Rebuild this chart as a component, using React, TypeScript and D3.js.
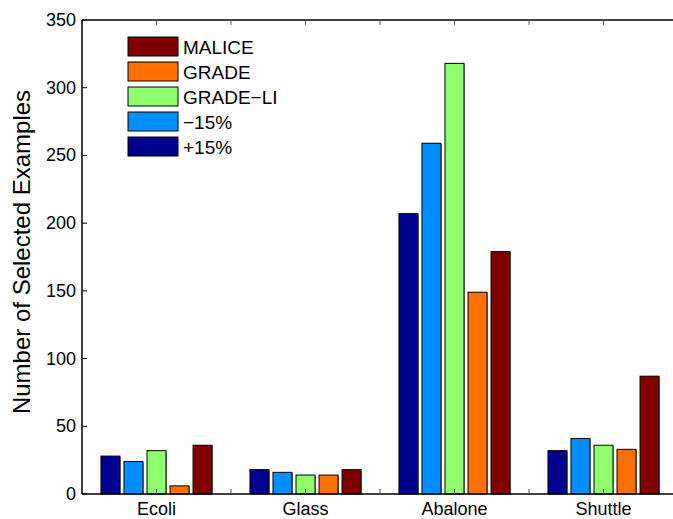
import React, { useRef, useEffect } from "react";
import * as d3 from "d3";

const categories = ["Ecoli", "Glass", "Abalone", "Shuttle"];
const seriesNames = ["+15%", "\u221215%", "GRADE\u2212LI", "GRADE", "MALICE"];
const seriesColors = ["#00008f", "#008fff", "#8fff70", "#ff7000", "#800000"];
const plus15 = [28, 18, 207, 32];
const minus15 = [24, 16, 259, 41];
const gradeLi = [32, 14, 318, 36];
const grade = [6, 14, 149, 33];
const malice = [36, 18, 179, 87];
const yTicks = [0, 50, 100, 150, 200, 250, 300, 350];

const series = [plus15, minus15, gradeLi, grade, malice];

const W = 673;
const H = 519;
const FONT = "'Liberation Sans', Arial, sans-serif";

const App = () => {
  const svgRef = useRef<SVGSVGElement>(null);

  useEffect(() => {
    document.body.style.margin = "0";
    const svg = d3.select(svgRef.current);
    svg.selectAll("*").remove();

    const left = 82, top = 20, bottom = 494;
    // axis spans 0..8, groups sit at odd positions, box runs past the right edge
    const x = d3.scaleLinear().domain([0, 8]).range([left, 678]);
    const y = d3.scaleLinear().domain([0, 350]).range([bottom, top]);
    const pitch = 0.309;
    const barW = 19;

    const g = svg.append("g");

    // bars
    series.forEach((vals, si) => {
      vals.forEach((v, ci) => {
        const cx = x(ci * 2 + 1 + (si - 2) * pitch);
        // light shadow on the right side
        g.append("rect")
          .attr("x", cx - barW / 2 + 1)
          .attr("y", y(v) + 1)
          .attr("width", barW)
          .attr("height", bottom - y(v) - 1)
          .attr("fill", "#999");
        g.append("rect")
          .attr("x", cx - barW / 2)
          .attr("y", y(v))
          .attr("width", barW)
          .attr("height", bottom - y(v))
          .attr("fill", seriesColors[si])
          .attr("stroke", "#000")
          .attr("stroke-width", 1);
      });
    });

    // axes box
    g.append("line").attr("x1", left).attr("x2", W).attr("y1", top).attr("y2", top).attr("stroke", "#000").attr("stroke-width", 1.5);
    g.append("line").attr("x1", left).attr("x2", W).attr("y1", bottom).attr("y2", bottom).attr("stroke", "#000").attr("stroke-width", 1.5);
    g.append("line").attr("x1", left).attr("x2", left).attr("y1", top).attr("y2", bottom).attr("stroke", "#000").attr("stroke-width", 1.5);

    // x ticks (inward, top and bottom)
    d3.range(1, 8).forEach((t) => {
      g.append("line").attr("x1", x(t)).attr("x2", x(t)).attr("y1", bottom).attr("y2", bottom - 5).attr("stroke", "#555");
      g.append("line").attr("x1", x(t)).attr("x2", x(t)).attr("y1", top).attr("y2", top + 5).attr("stroke", "#555");
    });
    categories.forEach((c, i) => {
      g.append("text")
        .attr("x", x(i * 2 + 1))
        .attr("y", bottom + 21)
        .attr("text-anchor", "middle")
        .attr("font-family", FONT)
        .attr("font-size", 18)
        .text(c);
    });

    // y ticks
    yTicks.forEach((t) => {
      g.append("line").attr("x1", left).attr("x2", left + 5).attr("y1", y(t)).attr("y2", y(t)).attr("stroke", "#000");
      g.append("text")
        .attr("x", left - 6)
        .attr("y", y(t) + 6)
        .attr("text-anchor", "end")
        .attr("font-family", FONT)
        .attr("font-size", 18)
        .text(t);
    });

    g.append("text")
      .attr("transform", `translate(30, ${(top + bottom) / 2 - 5}) rotate(-90)`)
      .attr("text-anchor", "middle")
      .attr("font-family", FONT)
      .attr("font-size", 24)
      .text("Number of Selected Examples");

    // legend, reversed order
    const legendNames = seriesNames.slice().reverse();
    const legendColors = seriesColors.slice().reverse();
    legendNames.forEach((n, i) => {
      const ly = 37 + i * 25;
      g.append("rect")
        .attr("x", 128)
        .attr("y", ly)
        .attr("width", 50)
        .attr("height", 19)
        .attr("fill", legendColors[i])
        .attr("stroke", "#000");
      g.append("text")
        .attr("x", 183)
        .attr("y", ly + 17)
        .attr("font-family", FONT)
        .attr("font-size", 19)
        .text(n);
    });
  }, []);

  return <svg ref={svgRef} width={W} height={H} style={{ display: "block", background: "#fff" }}></svg>;
};

export default App;
